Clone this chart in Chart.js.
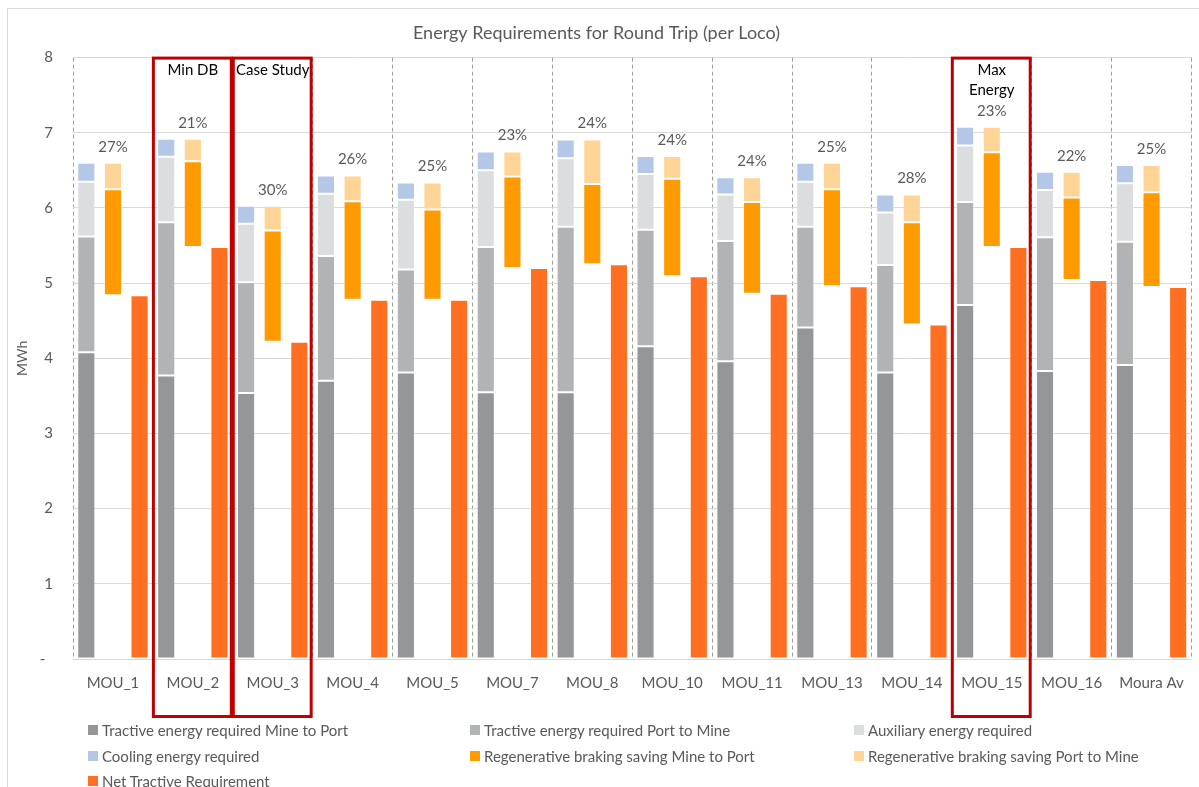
<!DOCTYPE html>
<html>
<head>
<meta charset="utf-8">
<title>Energy Requirements for Round Trip (per Loco)</title>
<script src="https://cdn.jsdelivr.net/npm/chart.js@4.4.1/dist/chart.umd.min.js"></script>
<style>
  html, body { margin: 0; padding: 0; background: #fff; overflow: hidden; }
  #wrap { position: relative; width: 1199px; height: 787px; }
  #frame { position: absolute; left: 7px; top: 8px; width: 1300px; height: 900px;
           border-left: 1px solid #d9d9d9; border-top: 1px solid #d9d9d9; pointer-events: none; }
  #legend { position: absolute; left: 0; top: 0; width: 1199px; height: 787px; pointer-events: none; }
  .item { position: absolute; height: 18px; display: flex; align-items: center; white-space: nowrap;
          font: 15px Lato, "Open Sans", sans-serif; color: #595959; }
  .item .box { width: 10px; height: 10px; margin-right: 4px; }
</style>
</head>
<body>
<div id="wrap">
  <canvas id="energy" width="1199" height="787"></canvas>
  <div id="frame"></div>
  <div id="legend"></div>
</div>
<script>
const locos = ['MOU_1', 'MOU_2', 'MOU_3', 'MOU_4', 'MOU_5', 'MOU_7', 'MOU_8',
               'MOU_10', 'MOU_11', 'MOU_13', 'MOU_14', 'MOU_15', 'MOU_16', 'Moura Av'];

// MWh per round trip
const tractiveMineToPort = [4.08, 3.77, 3.54, 3.70, 3.81, 3.55, 3.55, 4.16, 3.96, 4.41, 3.81, 4.71, 3.83, 3.91];
const tractivePortToMine = [1.54, 2.04, 1.47, 1.66, 1.37, 1.93, 2.20, 1.55, 1.60, 1.34, 1.43, 1.37, 1.78, 1.64];
const auxiliary          = [0.73, 0.87, 0.78, 0.83, 0.93, 1.02, 0.91, 0.74, 0.62, 0.60, 0.70, 0.75, 0.63, 0.78];
const cooling            = [0.25, 0.24, 0.24, 0.24, 0.23, 0.25, 0.25, 0.24, 0.23, 0.25, 0.24, 0.25, 0.24, 0.24];
const regenMineToPort    = [1.41, 1.14, 1.48, 1.31, 1.20, 1.22, 1.07, 1.30, 1.22, 1.29, 1.36, 1.26, 1.10, 1.26];
const regenPortToMine    = [0.35, 0.30, 0.33, 0.34, 0.36, 0.33, 0.59, 0.30, 0.33, 0.35, 0.37, 0.34, 0.34, 0.36];
const netTractive        = [4.84, 5.48, 4.22, 4.78, 4.78, 5.20, 5.25, 5.09, 4.86, 4.96, 4.45, 5.48, 5.04, 4.95];

const yTicks = [0, 1, 2, 3, 4, 5, 6, 7, 8];

// highlighted locos
const callouts = [
  { index: 1, text: ['Min DB'] },
  { index: 2, text: ['Case Study'] },
  { index: 11, text: ['Max', 'Energy'] }
];

const FONT = 'Lato, "Open Sans", sans-serif';
const TEXT = '#595959';

// turn a list of component arrays into [from, to] ranges sitting on a base
function spans(base, parts) {
  const level = base.slice();
  return parts.map(part => part.map((v, i) => {
    const r = [level[i], level[i] + v];
    level[i] += v;
    return r;
  }));
}

const [m2pBars, p2mBars, auxBars, coolBars] =
  spans(locos.map(() => 0), [tractiveMineToPort, tractivePortToMine, auxiliary, cooling]);
const [regenM2PBars, regenP2MBars] = spans(netTractive, [regenMineToPort, regenPortToMine]);

const gross = locos.map((_, i) => tractiveMineToPort[i] + tractivePortToMine[i] + auxiliary[i] + cooling[i]);

const bar = (label, data, color, stack) => ({
  label, data, stack,
  backgroundColor: color,
  borderColor: 'rgba(255,255,255,0.35)',
  borderWidth: 1,
  borderSkipped: false
});

const savingLabels = {
  id: 'savingLabels',
  afterDatasetsDraw(chart) {
    const { ctx } = chart;
    const meta = chart.getDatasetMeta(5);
    ctx.save();
    ctx.font = '15px ' + FONT;
    ctx.fillStyle = TEXT;
    ctx.textAlign = 'center';
    ctx.textBaseline = 'middle';
    meta.data.forEach((el, i) => {
      const pct = Math.round(100 * (regenMineToPort[i] + regenPortToMine[i]) / gross[i]);
      ctx.fillText(pct + '%', el.x, el.y - 16);
    });
    ctx.restore();
  }
};

const calloutBoxes = {
  id: 'calloutBoxes',
  afterDraw(chart) {
    const { ctx, chartArea, scales: { x } } = chart;
    const half = (x.getPixelForValue(1) - x.getPixelForValue(0)) / 2;
    const bottom = chartArea.bottom + 57;
    ctx.save();
    ctx.strokeStyle = '#c00000';
    ctx.lineWidth = 3;
    ctx.fillStyle = '#000';
    ctx.font = '15px ' + FONT;
    ctx.textAlign = 'center';
    ctx.textBaseline = 'middle';
    callouts.forEach(c => {
      const cx = x.getPixelForValue(c.index);
      ctx.strokeRect(cx - half + 0.5, chartArea.top + 0.5, half * 2 - 2, bottom - chartArea.top);
      c.text.forEach((t, j) => ctx.fillText(t, cx, chartArea.top + 13 + j * 20));
    });
    ctx.restore();
  }
};

const chart = new Chart(document.getElementById('energy'), {
  type: 'bar',
  data: {
    labels: locos,
    datasets: [
      bar('Tractive energy required Mine to Port', m2pBars, '#959697', 'gross'),
      bar('Tractive energy required Port to Mine', p2mBars, '#b2b3b4', 'gross'),
      bar('Auxiliary energy required', auxBars, '#dcdddf', 'gross'),
      bar('Cooling energy required', coolBars, '#b4c7e7', 'gross'),
      bar('Regenerative braking saving Mine to Port', regenM2PBars, '#ff9b00', 'regen'),
      bar('Regenerative braking saving Port to Mine', regenP2MBars, '#ffd597', 'regen'),
      bar('Net Tractive Requirement', netTractive, '#ff6f21', 'net')
    ]
  },
  options: {
    responsive: false,
    animation: false,
    devicePixelRatio: 1,
    categoryPercentage: 1,
    barPercentage: 0.68,
    layout: { padding: { left: 0, right: 6, top: 0, bottom: 0 } },
    plugins: {
      legend: { display: false },
      tooltip: { enabled: false },
      title: {
        display: true,
        text: 'Energy Requirements for Round Trip (per Loco)',
        color: TEXT,
        font: { family: FONT, size: 18, weight: 'normal' },
        padding: { top: 22, bottom: 14 }
      }
    },
    scales: {
      x: {
        stacked: true,
        grid: { color: '#9c9c9c', drawTicks: false },
        border: { display: false, dash: [4, 3] },
        ticks: { color: TEXT, font: { family: FONT, size: 15 }, padding: 15, autoSkip: false, maxRotation: 0 },
        afterFit: s => { s.height = 128; }
      },
      y: {
        stacked: false,
        min: 0,
        max: 8,
        afterBuildTicks: s => { s.ticks = yTicks.map(v => ({ value: v })); },
        grid: { color: '#d9d9d9', drawTicks: false },
        border: { display: false },
        ticks: {
          color: TEXT,
          font: { family: FONT, size: 15 },
          padding: 20,
          callback: v => (v === 0 ? '-  ' : v)
        },
        title: {
          display: true,
          text: 'MWh',
          color: TEXT,
          font: { family: FONT, size: 14 },
          padding: { top: 14, bottom: 0 }
        },
        afterFit: s => { s.width = 73; }
      }
    }
  },
  plugins: [savingLabels, calloutBoxes]
});

// legend laid out in three columns under the axis
const legendCols = [88, 470, 854];
const legendRows = [730, 756, 781];
const legend = document.getElementById('legend');
chart.data.datasets.forEach((ds, i) => {
  const item = document.createElement('div');
  item.className = 'item';
  item.style.left = legendCols[i % 3] + 'px';
  item.style.top = (legendRows[Math.floor(i / 3)] - 9) + 'px';
  const box = document.createElement('span');
  box.className = 'box';
  box.style.background = ds.backgroundColor;
  item.appendChild(box);
  item.appendChild(document.createTextNode(ds.label));
  legend.appendChild(item);
});
</script>
</body>
</html>
